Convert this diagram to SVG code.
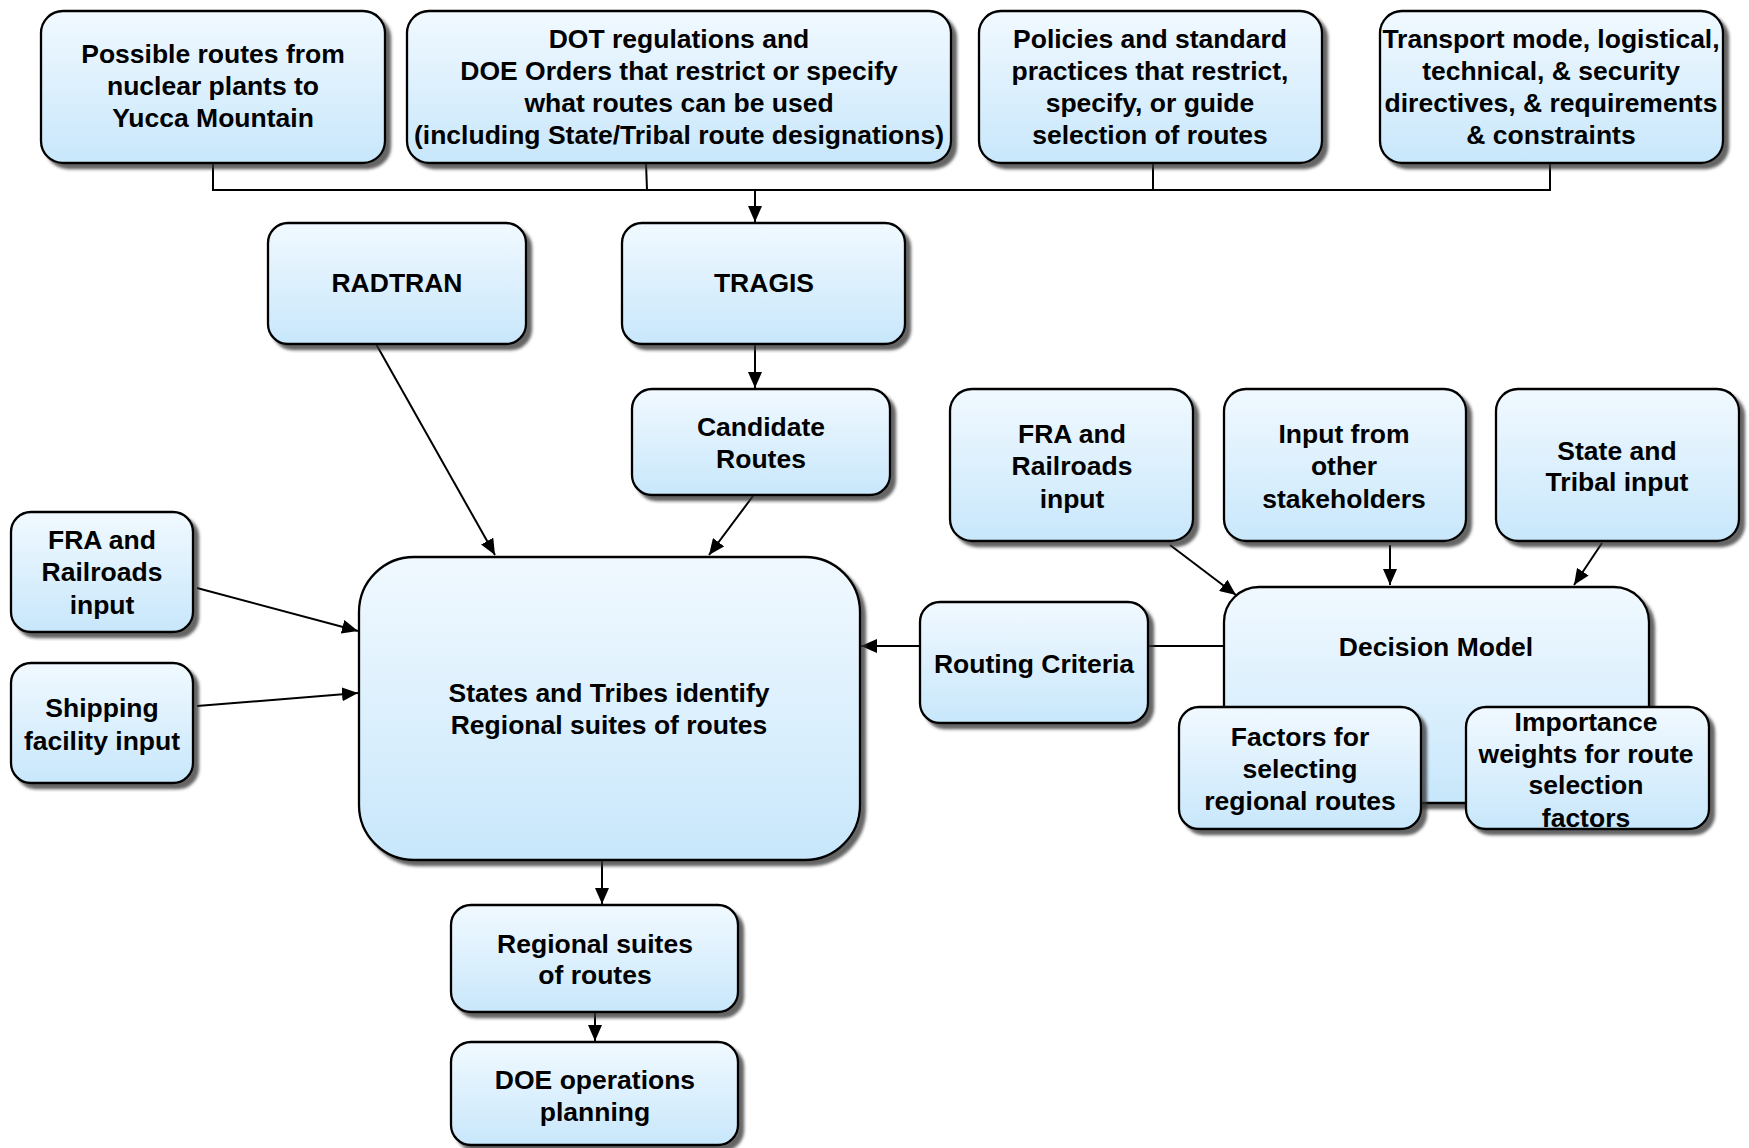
<svg xmlns="http://www.w3.org/2000/svg" width="1749" height="1148" viewBox="0 0 1749 1148">
<style>
.box{fill:url(#g);stroke:#000;stroke-width:2.3;filter:url(#sh)}
.t{font-family:"Liberation Sans",Arial,sans-serif;font-weight:bold;font-size:26.5px;fill:#000;text-anchor:middle}
.c{fill:none;stroke:#000;stroke-width:2}
</style>
<defs>
<linearGradient id="g" x1="0" y1="0" x2="0" y2="1">
<stop offset="0" stop-color="#f1f9ff"/>
<stop offset="1" stop-color="#c8e7fb"/>
</linearGradient>
<filter id="sh" x="-10%" y="-10%" width="130%" height="130%">
<feDropShadow dx="5" dy="5" stdDeviation="1.5" flood-color="#333" flood-opacity="0.75"/>
</filter>
<marker id="ar" markerWidth="16" markerHeight="14" viewBox="0 0 16 14" refX="16" refY="7" orient="auto" markerUnits="userSpaceOnUse">
<path d="M0,0 L16,7 L0,14 Z" fill="#000"/>
</marker>
</defs>

<g id="connectors">
<path class="c" d="M213,163 V190 H1550 V163"/>
<path class="c" d="M646,163 L647,190"/>
<path class="c" d="M1153,163 V190"/>
<path class="c" d="M755,190 V222" marker-end="url(#ar)"/>
<path class="c" d="M755,344 V388" marker-end="url(#ar)"/>
<path class="c" d="M376,344 L495,555" marker-end="url(#ar)"/>
<path class="c" d="M753,496 L709,555" marker-end="url(#ar)"/>
<path class="c" d="M197,588 L358,631" marker-end="url(#ar)"/>
<path class="c" d="M197,706 L358,693" marker-end="url(#ar)"/>
<path class="c" d="M920,646 L861,646" marker-end="url(#ar)"/>
<path class="c" d="M1148,646 L1224,646"/>
<path class="c" d="M1170,545 L1236,595" marker-end="url(#ar)"/>
<path class="c" d="M1390,545 V585" marker-end="url(#ar)"/>
<path class="c" d="M1602,543 L1574,585" marker-end="url(#ar)"/>
<path class="c" d="M602,860 V904" marker-end="url(#ar)"/>
<path class="c" d="M595,1012 V1041" marker-end="url(#ar)"/>
</g>

<g id="n-routes">
<rect class="box" x="41" y="11" width="344" height="152" rx="22"/>
<text class="t" x="213"><tspan x="213" y="63">Possible routes from</tspan><tspan x="213" y="95">nuclear plants to</tspan><tspan x="213" y="127">Yucca Mountain</tspan></text>
</g>
<g id="n-dot">
<rect class="box" x="407" y="11" width="544" height="152" rx="22"/>
<text class="t"><tspan x="679" y="48">DOT regulations and</tspan><tspan x="679" y="80">DOE Orders that restrict or specify</tspan><tspan x="679" y="112">what routes can be used</tspan><tspan x="679" y="144">(including State/Tribal route designations)</tspan></text>
</g>
<g id="n-policies">
<rect class="box" x="979" y="11" width="343" height="152" rx="22"/>
<text class="t"><tspan x="1150" y="48">Policies and standard</tspan><tspan x="1150" y="80">practices that restrict,</tspan><tspan x="1150" y="112">specify, or guide</tspan><tspan x="1150" y="144">selection of routes</tspan></text>
</g>
<g id="n-transport">
<rect class="box" x="1380" y="11" width="343" height="152" rx="22"/>
<text class="t"><tspan x="1551" y="48">Transport mode, logistical,</tspan><tspan x="1551" y="80">technical, &amp; security</tspan><tspan x="1551" y="112">directives, &amp; requirements</tspan><tspan x="1551" y="144">&amp; constraints</tspan></text>
</g>
<g id="n-radtran">
<rect class="box" x="268" y="223" width="258" height="121" rx="20"/>
<text class="t" x="397" y="292">RADTRAN</text>
</g>
<g id="n-tragis">
<rect class="box" x="622" y="223" width="283" height="121" rx="20"/>
<text class="t" x="764" y="292">TRAGIS</text>
</g>
<g id="n-candidate">
<rect class="box" x="632" y="389" width="258" height="106" rx="20"/>
<text class="t"><tspan x="761" y="436">Candidate</tspan><tspan x="761" y="468">Routes</tspan></text>
</g>
<g id="n-fra-left">
<rect class="box" x="11" y="512" width="182" height="120" rx="20"/>
<text class="t"><tspan x="102" y="549">FRA and</tspan><tspan x="102" y="581">Railroads</tspan><tspan x="102" y="614">input</tspan></text>
</g>
<g id="n-shipping">
<rect class="box" x="11" y="663" width="182" height="120" rx="20"/>
<text class="t"><tspan x="102" y="717">Shipping</tspan><tspan x="102" y="750">facility input</tspan></text>
</g>
<g id="n-states">
<rect class="box" x="359" y="557" width="501" height="303" rx="55"/>
<text class="t"><tspan x="609" y="702">States and Tribes identify</tspan><tspan x="609" y="734">Regional suites of routes</tspan></text>
</g>
<g id="n-regional">
<rect class="box" x="451" y="905" width="287" height="107" rx="20"/>
<text class="t"><tspan x="595" y="953">Regional suites</tspan><tspan x="595" y="984">of routes</tspan></text>
</g>
<g id="n-doe">
<rect class="box" x="451" y="1042" width="287" height="103" rx="20"/>
<text class="t"><tspan x="595" y="1089">DOE operations</tspan><tspan x="595" y="1121">planning</tspan></text>
</g>
<g id="n-fra-right">
<rect class="box" x="950" y="389" width="243" height="152" rx="22"/>
<text class="t"><tspan x="1072" y="443">FRA and</tspan><tspan x="1072" y="475">Railroads</tspan><tspan x="1072" y="508">input</tspan></text>
</g>
<g id="n-stakeholders">
<rect class="box" x="1224" y="389" width="242" height="152" rx="22"/>
<text class="t"><tspan x="1344" y="443">Input from</tspan><tspan x="1344" y="475">other</tspan><tspan x="1344" y="508">stakeholders</tspan></text>
</g>
<g id="n-state-tribal">
<rect class="box" x="1496" y="389" width="243" height="152" rx="22"/>
<text class="t"><tspan x="1617" y="460">State and</tspan><tspan x="1617" y="491">Tribal input</tspan></text>
</g>
<g id="n-routing">
<rect class="box" x="920" y="602" width="228" height="121" rx="20"/>
<text class="t" x="1034" y="673">Routing Criteria</text>
</g>
<g id="n-decision">
<rect class="box" x="1224" y="587" width="425" height="216" rx="35"/>
<text class="t" x="1436" y="656">Decision Model</text>
</g>
<g id="n-factors">
<rect class="box" x="1179" y="707" width="242" height="122" rx="20"/>
<text class="t"><tspan x="1300" y="746">Factors for</tspan><tspan x="1300" y="778">selecting</tspan><tspan x="1300" y="810">regional routes</tspan></text>
</g>
<g id="n-importance">
<rect class="box" x="1466" y="707" width="243" height="122" rx="20"/>
<text class="t"><tspan x="1586" y="731">Importance</tspan><tspan x="1586" y="763">weights for route</tspan><tspan x="1586" y="794">selection</tspan><tspan x="1586" y="827">factors</tspan></text>
</g>
</svg>
